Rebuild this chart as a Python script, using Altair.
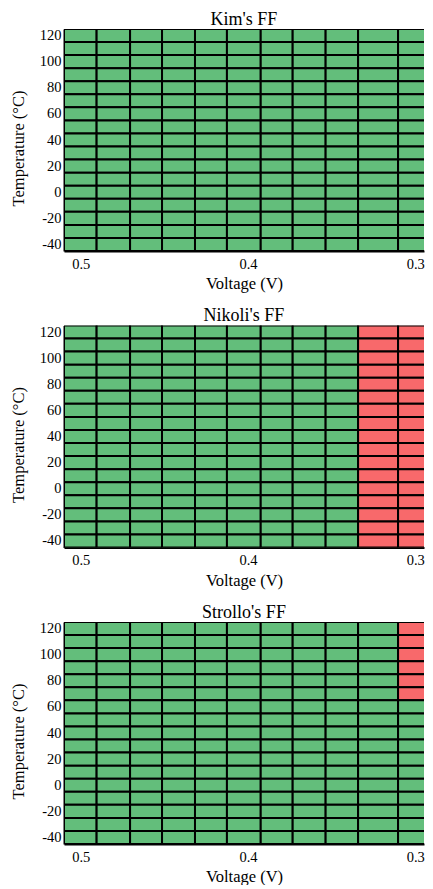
import altair as alt
import pandas as pd

# Temperature rows (°C), top to bottom
temps = [120, 110, 100, 90, 80, 70, 60, 50, 40, 30, 20, 10, 0, -10, -20, -30, -40]

# Voltage column edges (V), left to right (axis runs from high to low voltage)
v_left = [0.510, 0.4905, 0.4705, 0.4514, 0.4317, 0.4126, 0.3924, 0.3733, 0.3536, 0.3342, 0.3103]
v_right = [0.4905, 0.4705, 0.4514, 0.4317, 0.4126, 0.3924, 0.3733, 0.3536, 0.3342, 0.3103, 0.290]

# Pass (G) / Fail (R) per temperature row, one char per voltage column
kim_grid = [
    "GGGGGGGGGGG", "GGGGGGGGGGG", "GGGGGGGGGGG", "GGGGGGGGGGG", "GGGGGGGGGGG",
    "GGGGGGGGGGG", "GGGGGGGGGGG", "GGGGGGGGGGG", "GGGGGGGGGGG", "GGGGGGGGGGG",
    "GGGGGGGGGGG", "GGGGGGGGGGG", "GGGGGGGGGGG", "GGGGGGGGGGG", "GGGGGGGGGGG",
    "GGGGGGGGGGG", "GGGGGGGGGGG",
]
nikoli_grid = [
    "GGGGGGGGGRR", "GGGGGGGGGRR", "GGGGGGGGGRR", "GGGGGGGGGRR", "GGGGGGGGGRR",
    "GGGGGGGGGRR", "GGGGGGGGGRR", "GGGGGGGGGRR", "GGGGGGGGGRR", "GGGGGGGGGRR",
    "GGGGGGGGGRR", "GGGGGGGGGRR", "GGGGGGGGGRR", "GGGGGGGGGRR", "GGGGGGGGGRR",
    "GGGGGGGGGRR", "GGGGGGGGGRR",
]
strollo_grid = [
    "GGGGGGGGGGR", "GGGGGGGGGGR", "GGGGGGGGGGR", "GGGGGGGGGGR", "GGGGGGGGGGR",
    "GGGGGGGGGGR", "GGGGGGGGGGG", "GGGGGGGGGGG", "GGGGGGGGGGG", "GGGGGGGGGGG",
    "GGGGGGGGGGG", "GGGGGGGGGGG", "GGGGGGGGGGG", "GGGGGGGGGGG", "GGGGGGGGGGG",
    "GGGGGGGGGGG", "GGGGGGGGGGG",
]

titles = ["Kim's FF", "Nikoli's FF", "Strollo's FF"]
grids = [kim_grid, nikoli_grid, strollo_grid]

FONT = "Liberation Serif"


def make_df(grid):
    rows = []
    for ti, t in enumerate(temps):
        for vi in range(len(v_left)):
            rows.append({
                "v1": v_left[vi], "v2": v_right[vi],
                "t1": t - 5, "t2": t + 5,
                "status": "Pass" if grid[ti][vi] == "G" else "Fail",
            })
    return pd.DataFrame(rows)


def panel(title, grid):
    return alt.Chart(make_df(grid)).mark_rect(stroke="black", strokeWidth=2, clip=True).encode(
        x=alt.X("v1:Q",
                scale=alt.Scale(domain=[0.2948, 0.51], reverse=True, nice=False, zero=False),
                axis=alt.Axis(values=[0.5, 0.4, 0.3], format=".1f", title="Voltage (V)",
                              grid=False, ticks=False, tickSize=0, labelPadding=6,
                              labelFlush=False,
                              domainColor="black", domainWidth=2,
                              labelFont=FONT, labelFontSize=14.5, labelColor="black",
                              titleFont=FONT, titleFontSize=16.5, titleFontWeight="normal",
                              titleColor="black", titlePadding=5)),
        x2="v2:Q",
        y=alt.Y("t1:Q",
                scale=alt.Scale(domain=[-45, 125], nice=False, zero=False),
                axis=alt.Axis(values=list(range(-40, 121, 20)), title="Temperature (°C)",
                              labelExpr="datum.value + ''",
                              grid=False, ticks=False, tickSize=0, labelPadding=3,
                              domainColor="black", domainWidth=2,
                              labelFont=FONT, labelFontSize=14.5, labelColor="black",
                              titleFont=FONT, titleFontSize=16.5, titleFontWeight="normal",
                              titleColor="black", titlePadding=13, titleY=119)),
        y2="t2:Q",
        color=alt.Color("status:N",
                        scale=alt.Scale(domain=["Pass", "Fail"], range=["#63BE7B", "#F8696B"]),
                        legend=None),
    ).properties(
        width=360, height=222,
        title=alt.TitleParams(title, font=FONT, fontSize=18, fontWeight="normal", color="black",
                              anchor="middle", frame="group", offset=-1),
    )


chart = alt.vconcat(*[panel(t, g) for t, g in zip(titles, grids)], spacing=14.5).properties(
    padding={"left": 2, "top": 2, "right": 0, "bottom": 0}
).configure_view(strokeWidth=0)

chart.save("out.html", embed_options={"renderer": "svg", "actions": False})
